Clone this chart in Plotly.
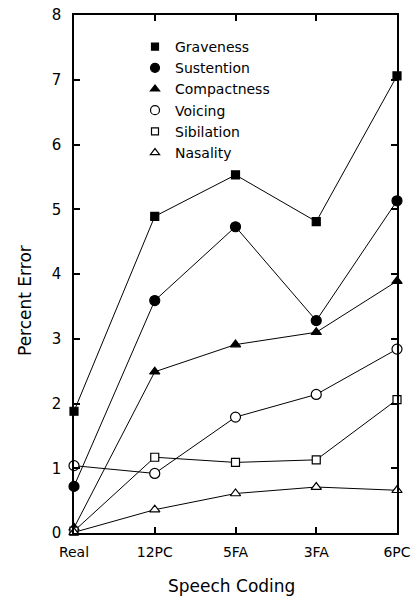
import plotly.graph_objects as go

categories = ["Real", "12PC", "5FA", "3FA", "6PC"]
graveness = [1.88, 4.89, 5.53, 4.81, 7.06]
sustention = [0.72, 3.59, 4.73, 3.28, 5.13]
compactness = [0.08, 2.49, 2.91, 3.10, 3.89]
voicing = [1.04, 0.92, 1.79, 2.14, 2.84]
sibilation = [0.03, 1.17, 1.09, 1.13, 2.06]
nasality = [0.01, 0.36, 0.61, 0.71, 0.66]
y_ticks = [0, 1, 2, 3, 4, 5, 6, 7, 8]

series = [
    ("Graveness", graveness, "square", "black"),
    ("Sustention", sustention, "circle", "black"),
    ("Compactness", compactness, "triangle-up", "black"),
    ("Voicing", voicing, "circle-open", "white"),
    ("Sibilation", sibilation, "square-open", "white"),
    ("Nasality", nasality, "triangle-up-open", "white"),
]
sizes = {"square": 8, "circle": 10, "triangle-up": 9, "circle-open": 10,
         "square-open": 8, "triangle-up-open": 9}

xs = list(range(len(categories)))
fig = go.Figure()
for name, vals, sym, fill in series:
    fig.add_trace(go.Scatter(
        x=xs, y=vals, mode="lines+markers", showlegend=False,
        line=dict(color="black", width=1),
        marker=dict(symbol=sym.replace("-open", ""), size=sizes[sym],
                    color=fill, line=dict(color="black", width=1.2)),
        cliponaxis=False, hoverinfo="skip",
    ))
for name, vals, sym, fill in series:
    fig.add_trace(go.Scatter(
        x=[None], y=[None], mode="markers", name=name,
        marker=dict(symbol=sym.replace("-open", ""), size=sizes[sym] - 1,
                    color=fill, line=dict(color="black", width=1.2)),
    ))

font = "DejaVu Sans"
W, H = 411, 597
L, T = 74, 15
R = W - 397
B = H - 533
pw = W - L - R
ph = H - T - B


def px_x(x):
    return (x - L) / pw


def px_y(y):
    return (H - B - y) / ph


fig.update_layout(
    width=W, height=H,
    margin=dict(l=L, r=R, t=T, b=B, autoexpand=False),
    paper_bgcolor="white", plot_bgcolor="white",
    font=dict(family=font, color="black", size=14),
    legend=dict(x=px_x(135), y=px_y(31), xanchor="left", yanchor="top",
                bgcolor="rgba(0,0,0,0)", font=dict(size=14),
                tracegroupgap=0, itemwidth=30),
    xaxis=dict(
        range=[0, 4], tickmode="array", tickvals=xs, ticktext=categories,
        ticks="inside", ticklen=6, tickcolor="black", tickwidth=1.5,
        showline=True, linecolor="black", linewidth=1.5, mirror="ticks",
        showgrid=False, zeroline=False, automargin=False,
        ticklabeloverflow="allow", ticklabelstandoff=5,
        tickfont=dict(size=14),
    ),
    yaxis=dict(
        range=[0, 8], tickmode="array", tickvals=y_ticks,
        ticks="inside", ticklen=6, tickcolor="black", tickwidth=1.5,
        showline=True, linecolor="black", linewidth=1.5, mirror="ticks",
        showgrid=False, zeroline=False, ticklabelstandoff=8, automargin=False,
        ticklabeloverflow="allow",
        tickfont=dict(size=15),
    ),
    annotations=[
        dict(text="Percent Error", xref="paper", yref="paper",
             x=px_x(25), y=px_y(301), textangle=-90,
             showarrow=False, font=dict(size=17), xanchor="center", yanchor="middle"),
        dict(text="Speech Coding", xref="paper", yref="paper",
             x=px_x(231), y=px_y(586),
             showarrow=False, font=dict(size=17), xanchor="center", yanchor="middle"),
    ],
)
fig.write_html("out.html", config={"displayModeBar": False},
               post_script="document.body.style.margin='0';document.body.style.overflow='hidden';")
